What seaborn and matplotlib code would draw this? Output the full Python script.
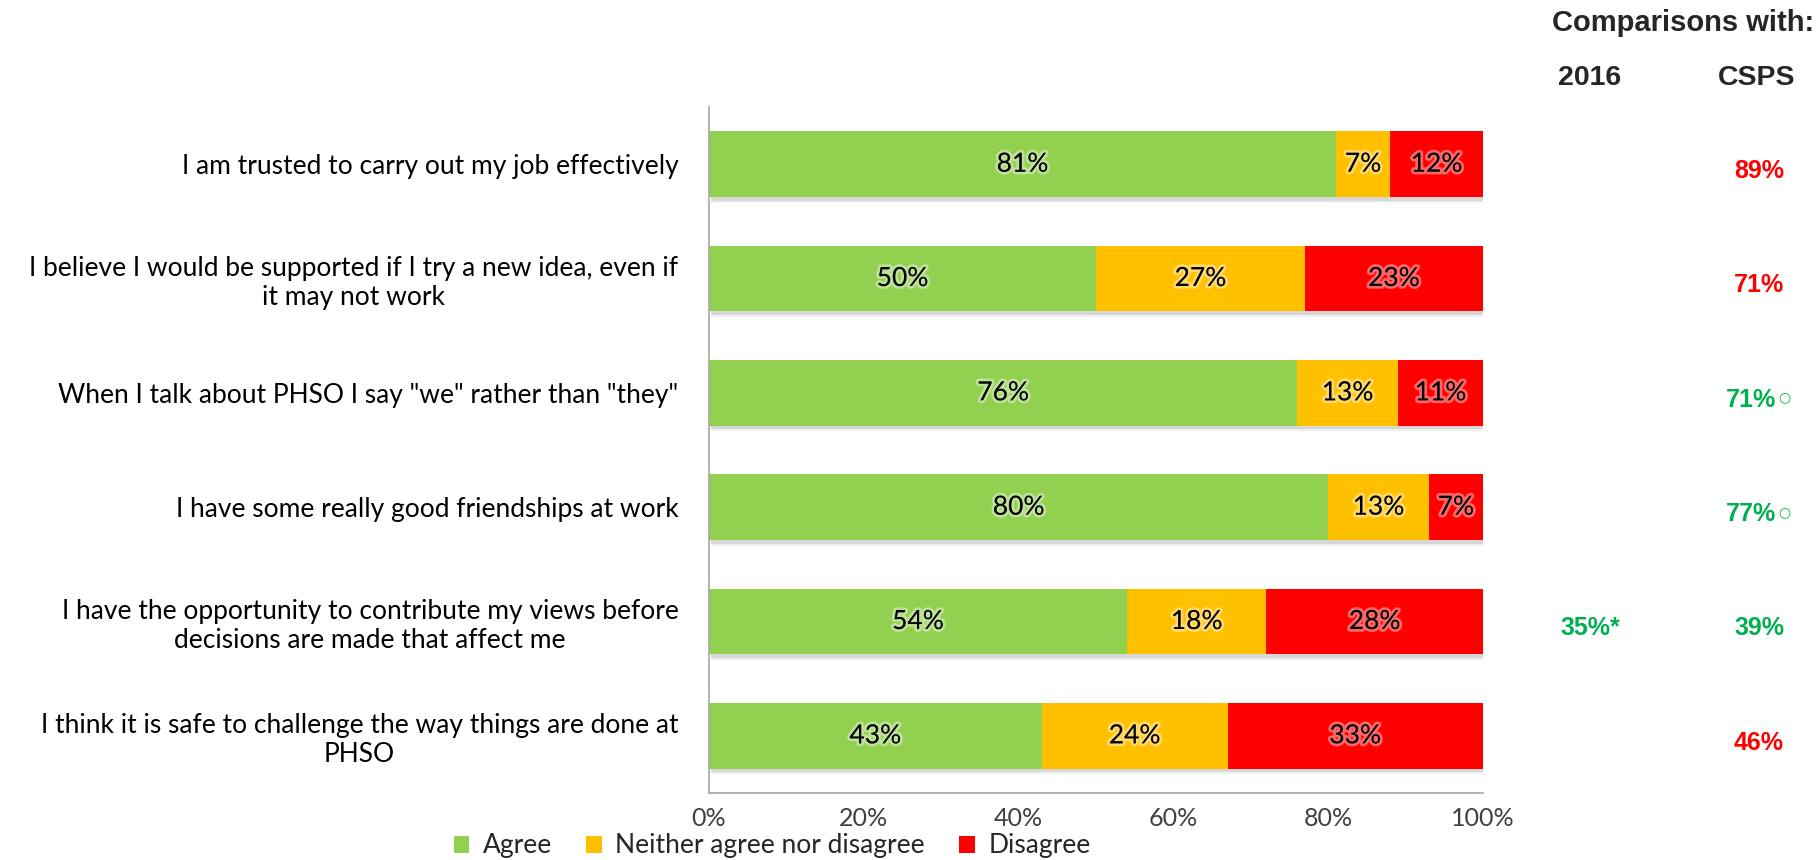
import matplotlib
matplotlib.use("Agg")
import matplotlib.pyplot as plt
import matplotlib.patheffects as pe
from matplotlib.patches import Patch
from matplotlib.transforms import blended_transform_factory
import numpy as np
import pandas as pd
import seaborn as sns

# ---- data -------------------------------------------------------------
statements = [
    "I am trusted to carry out my job effectively",
    "I believe I would be supported if I try a new idea, even if\nit may not work",
    "When I talk about PHSO I say \"we\" rather than \"they\"",
    "I have some really good friendships at work",
    "I have the opportunity to contribute my views before\ndecisions are made that affect me",
    "I think it is safe to challenge the way things are done at\nPHSO",
]
agree = [81, 50, 76, 80, 54, 43]
neither = [7, 27, 13, 13, 18, 24]
disagree = [12, 23, 11, 7, 28, 33]

series_names = ["Agree", "Neither agree nor disagree", "Disagree"]
series_colors = ["#92D050", "#FFC000", "#FF0000"]

cmp_2016 = ["", "", "", "", "35%*", ""]
cmp_2016_color = ["", "", "", "", "#00B050", ""]
cmp_csps = ["89%", "71%", "71%", "77%", "39%", "46%"]
cmp_csps_color = ["#FF0000", "#FF0000", "#00B050", "#00B050", "#00B050", "#FF0000"]
cmp_csps_mark = [False, False, True, True, False, False]

xticks = [0, 20, 40, 60, 80, 100]

# ---- styling ----------------------------------------------------------
sns.set_theme(style="white")
plt.rcParams["font.family"] = ["Lato", "DejaVu Sans"]
body_font = ["Lato", "DejaVu Sans"]
head_font = ["Liberation Sans", "DejaVu Sans"]

df = pd.DataFrame({"statement": statements, "Agree": agree,
                   "Neither": neither, "Disagree": disagree})
df["cum_neither"] = df["Agree"] + df["Neither"]
df["cum_total"] = df["cum_neither"] + df["Disagree"]

W, H = 1820, 860
fig = plt.figure(figsize=(W / 100, H / 100), dpi=100)
ax = fig.add_axes([709 / W, 1 - 793 / H, (1483 - 709) / W, (793 - 107) / H])

bar_w = 0.575
# stacked horizontal bars drawn as layered cumulative totals
sns.barplot(data=df, y="statement", x="cum_total", color=series_colors[2],
            orient="h", width=bar_w, saturation=1, ax=ax)
for p in ax.patches:
    p.set_path_effects([
        pe.SimplePatchShadow(offset=(1.5, -4), alpha=0.06, shadow_rgbFace="black"),
        pe.SimplePatchShadow(offset=(1.5, -2.5), alpha=0.10, shadow_rgbFace="black"),
        pe.Normal()])
sns.barplot(data=df, y="statement", x="cum_neither", color=series_colors[1],
            orient="h", width=bar_w, saturation=1, ax=ax)
sns.barplot(data=df, y="statement", x="Agree", color=series_colors[0],
            orient="h", width=bar_w, saturation=1, ax=ax)
for p in ax.patches:
    p.set_linewidth(0)

# segment labels
glow = [pe.withStroke(linewidth=4, foreground=(1, 1, 1, 0.4))]
for i in range(len(statements)):
    starts = [0, agree[i], agree[i] + neither[i]]
    vals = [agree[i], neither[i], disagree[i]]
    for s, v in zip(starts, vals):
        ax.text(s + v / 2, i, f"{v}%", ha="center", va="center",
                fontsize=19, color="black", family=body_font, path_effects=glow)

ax.set_xlim(0, 100)
ax.set_xticks(xticks)
ax.set_xticklabels([f"{t}%" for t in xticks], family=body_font, fontsize=18, color="#404040")
ax.set_xlabel("")
ax.set_ylabel("")
ax.set_yticks(range(len(statements)))
ax.set_yticklabels(statements, family=body_font, fontsize=19, color="black",
                   multialignment="center")
ax.tick_params(axis="y", length=0, pad=22)
ax.tick_params(axis="x", length=0, pad=10)

for side in ["top", "right"]:
    ax.spines[side].set_visible(False)
for side in ["left", "bottom"]:
    ax.spines[side].set_visible(True)
    ax.spines[side].set_color("#A6A6A6")
    ax.spines[side].set_linewidth(1.2)
ax.grid(False)

# comparison columns
fig.text(1683 / W, 1 - 23 / H, "Comparisons with:", ha="center", va="center",
         fontsize=21, fontweight="bold", family=head_font)
fig.text(1590 / W, 1 - 78 / H, "2016", ha="center", va="center",
         fontsize=20.5, fontweight="bold", family=head_font)
fig.text(1757 / W, 1 - 78 / H, "CSPS", ha="center", va="center",
         fontsize=20.5, fontweight="bold", family=head_font)

tr = blended_transform_factory(fig.transFigure, ax.transData)
for i in range(len(statements)):
    if cmp_2016[i]:
        ax.text(1590 / W, i + 0.06, cmp_2016[i], transform=tr, ha="center", va="center",
                fontsize=18, fontweight="bold", color=cmp_2016_color[i], family=head_font)
    x_val = 1751 if cmp_csps_mark[i] else 1759
    ax.text(x_val / W, i + 0.06, cmp_csps[i], transform=tr, ha="center", va="center",
            fontsize=18, fontweight="bold", color=cmp_csps_color[i], family=head_font)
    if cmp_csps_mark[i]:
        ax.text(1784 / W, i + 0.04, "○", transform=tr, ha="center", va="center",
                fontsize=10, color=cmp_csps_color[i], family=["DejaVu Sans"])

# legend
handles = [Patch(facecolor=c, edgecolor="none") for c in series_colors]
fig.legend(handles, series_names, loc="center", bbox_to_anchor=(772 / W, 1 - 846 / H),
           ncol=3, frameon=False, handlelength=0.6, handleheight=0.6,
           handletextpad=0.5, columnspacing=1.3, borderpad=0.0,
           prop={"family": body_font, "size": 19})

fig.savefig("out.png", dpi=100, facecolor="white")
